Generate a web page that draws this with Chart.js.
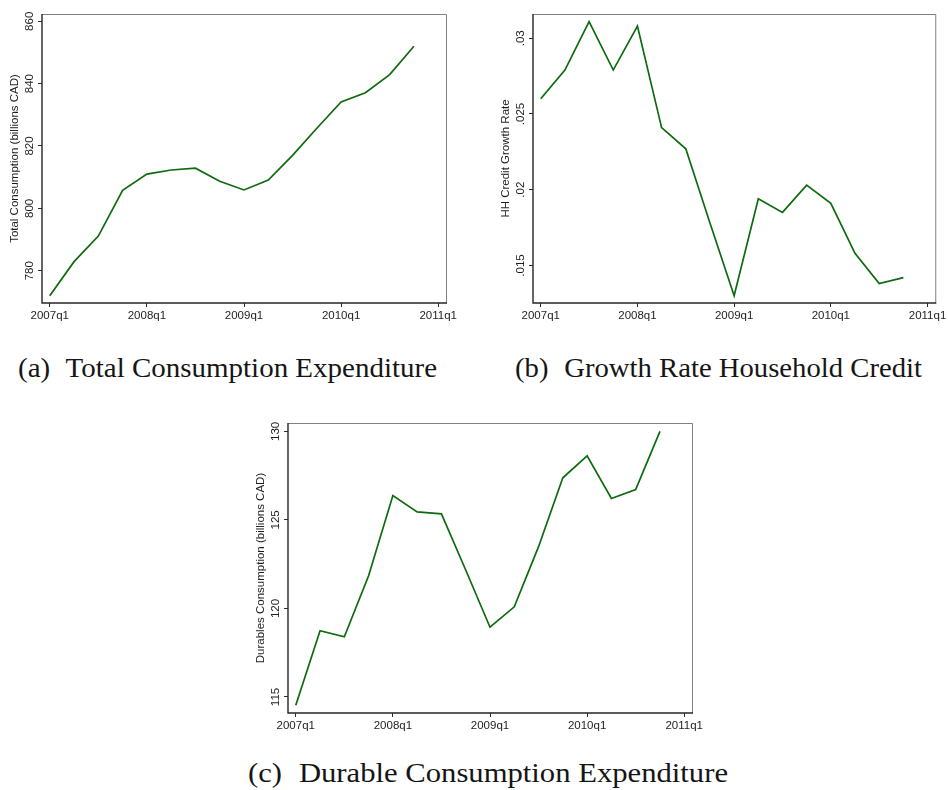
<!DOCTYPE html>
<html>
<head>
<meta charset="utf-8">
<script src="https://cdn.jsdelivr.net/npm/chart.js@4.4.1/dist/chart.umd.min.js"></script>
<style>
  html, body { margin: 0; padding: 0; background: #ffffff; }
  body { width: 948px; height: 790px; position: relative; overflow: hidden; }
  .panel { position: absolute; }
  .cap {
    position: absolute;
    font-family: "Liberation Serif", "Times New Roman", serif;
    font-size: 26.5px;
    line-height: 26.5px;
    color: #151515;
    white-space: pre;
    transform-origin: 0 0;
  }
  .cap .tag { margin-right: 0.3em; }
</style>
</head>
<body>
<div class="panel" style="left:0px;top:0px;"><canvas id="chartTotal" width="470" height="335"></canvas></div>
<div class="panel" style="left:490px;top:0px;"><canvas id="chartCredit" width="458" height="335"></canvas></div>
<div class="panel" style="left:240px;top:410px;"><canvas id="chartDurables" width="470" height="335"></canvas></div>

<div class="cap" id="capA" data-left="18.3" data-baseline="376.7" data-width="419"><span class="tag">(a)</span> Total Consumption Expenditure</div>
<div class="cap" id="capB" data-left="515" data-baseline="376.7" data-width="407"><span class="tag">(b)</span> Growth Rate Household Credit</div>
<div class="cap" id="capC" data-left="248.3" data-baseline="781.7" data-width="480"><span class="tag">(c)</span> Durable Consumption Expenditure</div>

<script>
// Quarterly series, 2007q1 .. 2010q4 (index 0 = 2007q1)
const quarterIndex = [0, 1, 2, 3, 4, 5, 6, 7, 8, 9, 10, 11, 12, 13, 14, 15];
const xTickValues = [0, 4, 8, 12, 16];
const xTickLabels = ['2007q1', '2008q1', '2009q1', '2010q1', '2011q1'];

// Total consumption, billions CAD
const totalConsumption = [772.0, 782.9, 791.1, 805.8, 811.0, 812.3, 812.9, 808.7,
                          805.9, 809.1, 817.0, 825.7, 834.1, 837.1, 842.9, 852.0];
const totalTicks = [780, 800, 820, 840, 860];
const totalTickLabels = ['780', '800', '820', '840', '860'];

// Household credit growth rate
const hhCreditGrowth = [0.0260, 0.0279, 0.0311, 0.0279, 0.0308, 0.0241, 0.0227, 0.0178,
                        0.0130, 0.0194, 0.0185, 0.0203, 0.0191, 0.0158, 0.0138, 0.0142];
const creditTicks = [0.015, 0.02, 0.025, 0.03];
const creditTickLabels = ['.015', '.02', '.025', '.03'];

// Durables consumption, billions CAD
const durablesConsumption = [114.53, 118.74, 118.40, 121.85, 126.38, 125.45, 125.34, 122.17,
                             118.94, 120.09, 123.49, 127.38, 128.62, 126.21, 126.72, 130.00];
const durablesTicks = [115, 120, 125, 130];
const durablesTickLabels = ['115', '120', '125', '130'];

const AXIS_FONT = '"Liberation Sans", Arial, sans-serif';
const LINE_COLOR = '#0d6a0d';

// Draws the plot-region box, the rotated y tick labels and the y-axis title
const stataFrame = {
  id: 'stataFrame',
  afterDraw(chart, args, opts) {
    const { ctx, chartArea: a } = chart;
    const yScale = chart.scales.y;
    ctx.save();
    // top and right edges: light grey
    ctx.lineWidth = 1;
    ctx.strokeStyle = '#808080';
    ctx.beginPath();
    ctx.moveTo(a.left, a.top + 0.5);
    ctx.lineTo(a.right + 0.5, a.top + 0.5);
    ctx.lineTo(a.right + 0.5, a.bottom);
    ctx.stroke();
    // left and bottom axis lines: dark
    ctx.lineWidth = 1.4;
    ctx.strokeStyle = '#262626';
    ctx.beginPath();
    ctx.moveTo(a.left, a.top);
    ctx.lineTo(a.left, a.bottom);
    ctx.lineTo(a.right + 1, a.bottom);
    ctx.stroke();

    ctx.fillStyle = '#1e1e1e';
    ctx.font = '11.5px ' + AXIS_FONT;
    ctx.textAlign = 'center';
    ctx.textBaseline = 'alphabetic';
    opts.values.forEach((v, i) => {
      const py = yScale.getPixelForValue(v);
      ctx.save();
      ctx.translate(a.left - 9, py);
      ctx.rotate(-Math.PI / 2);
      ctx.fillText(opts.labels[i], 0, 0);
      ctx.restore();
    });
    ctx.save();
    ctx.translate(a.left - 24.5, (a.top + a.bottom) / 2);
    ctx.rotate(-Math.PI / 2);
    ctx.fillText(opts.title, 0, 0);
    ctx.restore();
    ctx.restore();
  }
};

function makePanel(canvasId, values, yMin, yMax, yTicks, yLabels, yTitle, area) {
  const canvas = document.getElementById(canvasId);
  const W = canvas.width, H = canvas.height;
  const tickGrid = {
    display: true,
    drawOnChartArea: false,
    drawTicks: true,
    tickLength: 4,
    color: '#2a2a2a',
    lineWidth: 1
  };
  return new Chart(canvas, {
    type: 'line',
    data: {
      datasets: [{
        data: quarterIndex.map((q, i) => ({ x: q, y: values[i] })),
        borderColor: LINE_COLOR,
        borderWidth: 1.7,
        pointRadius: 0,
        tension: 0,
        fill: false
      }]
    },
    options: {
      responsive: false,
      animation: false,
      events: [],
      layout: { padding: { left: 0, top: area.top, right: W - area.right, bottom: 0 } },
      plugins: {
        legend: { display: false },
        tooltip: { enabled: false },
        stataFrame: { values: yTicks, labels: yLabels, title: yTitle }
      },
      scales: {
        x: {
          type: 'linear',
          min: -0.32,
          max: 16.32,
          afterBuildTicks: s => { s.ticks = xTickValues.map(v => ({ value: v })); },
          afterFit: s => { s.height = H - area.bottom; },
          ticks: {
            autoSkip: false,
            maxRotation: 0,
            minRotation: 0,
            padding: 1.5,
            color: '#1e1e1e',
            font: { family: AXIS_FONT, size: 11.5 },
            callback: v => xTickLabels[xTickValues.indexOf(v)]
          },
          grid: tickGrid,
          border: { display: false }
        },
        y: {
          type: 'linear',
          min: yMin,
          max: yMax,
          afterBuildTicks: s => { s.ticks = yTicks.map(v => ({ value: v })); },
          afterFit: s => { s.width = area.left; },
          ticks: { display: false },
          grid: tickGrid,
          border: { display: false }
        }
      }
    },
    plugins: [stataFrame]
  });
}

makePanel('chartTotal', totalConsumption, 769.64, 862.34, totalTicks, totalTickLabels,
  'Total Consumption (billions CAD)', { left: 42, top: 14, right: 446, bottom: 303 });
makePanel('chartCredit', hhCreditGrowth, 0.01252, 0.0316, creditTicks, creditTickLabels,
  'HH Credit Growth Rate', { left: 43, top: 14, right: 447, bottom: 303 });
makePanel('chartDurables', durablesConsumption, 114.094, 130.475, durablesTicks, durablesTickLabels,
  'Durables Consumption (billions CAD)', { left: 48, top: 13, right: 452, bottom: 303 });

// Sub-figure captions: place on the baseline and fit to the set width
document.querySelectorAll('.cap').forEach(el => {
  const left = parseFloat(el.dataset.left);
  const baseline = parseFloat(el.dataset.baseline);
  const target = parseFloat(el.dataset.width);
  const fs = parseFloat(getComputedStyle(el).fontSize);
  el.style.left = left + 'px';
  el.style.top = (baseline - 0.8375 * fs) + 'px';
  const w = el.getBoundingClientRect().width;
  el.style.transform = 'scaleX(' + (target / w) + ')';
});
</script>
</body>
</html>
